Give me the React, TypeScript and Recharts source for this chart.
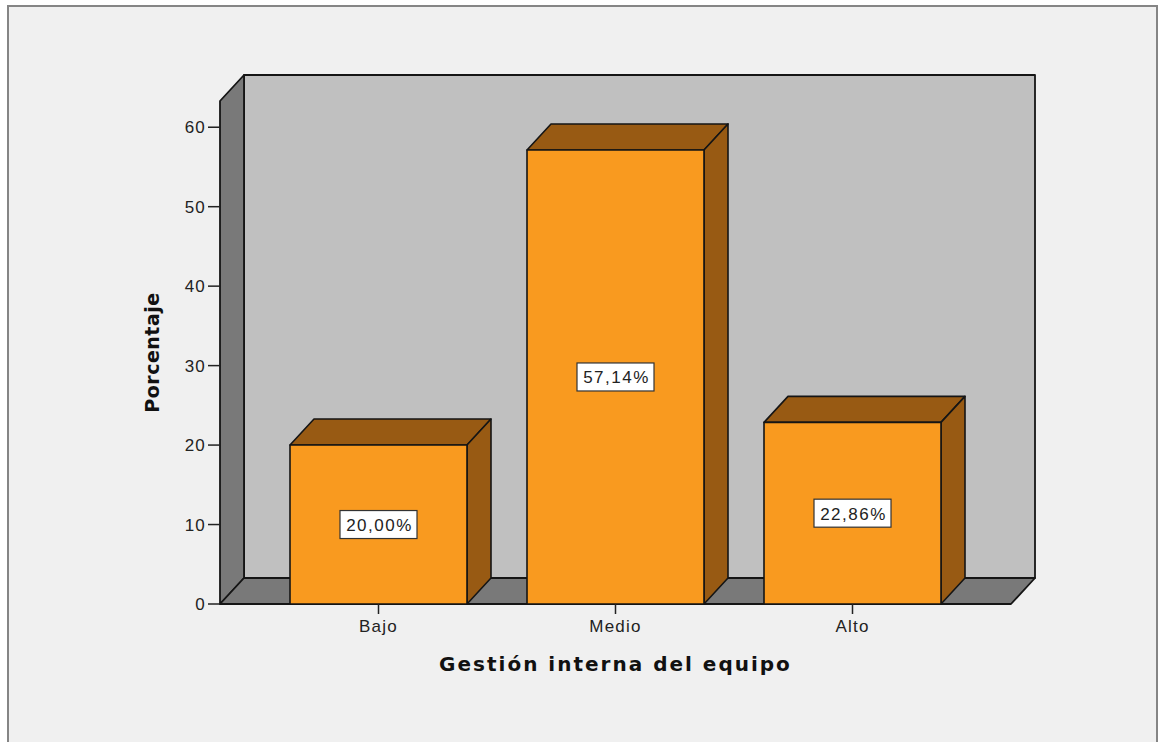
import React from 'react';
import { BarChart, Bar, XAxis, YAxis, ReferenceArea, LabelList } from 'recharts';

const categories = ['Bajo', 'Medio', 'Alto'];
const percentages = [20.0, 57.14, 22.86];
const yTicks = [0, 10, 20, 30, 40, 50, 60];
const Y_MAX = 63.3;

// depth of the fake 3D extrusion (pixels)
const DEPTH_X = 24;
const DEPTH_Y = 26;
// category axis padding; the walls are widened by it to cover the whole plot
const PAD_X = 40;

const FONT = 'Arial, "Liberation Sans", Helvetica, sans-serif';
const TITLE_FONT = '"DejaVu Sans", Verdana, sans-serif';
const EDGE = '#151515';

const data = categories.map((name, i) => ({ name, value: percentages[i] }));

const fmtPct = (v: number) => v.toFixed(2).replace('.', ',') + '%';

const Bar3D = (props: any) => {
  const { x, y, width: w, height: h } = props;
  const dx = DEPTH_X;
  const dy = DEPTH_Y;
  return (
    <g stroke={EDGE} strokeWidth={1.6} strokeLinejoin="round">
      <polygon
        points={`${x},${y} ${x + dx},${y - dy} ${x + w + dx},${y - dy} ${x + w},${y}`}
        fill="#985a13"
      />
      <polygon
        points={`${x + w},${y} ${x + w + dx},${y - dy} ${x + w + dx},${y + h - dy} ${x + w},${y + h}`}
        fill="#985a13"
      />
      <rect x={x} y={y} width={w} height={h} fill="#f99a1f" />
    </g>
  );
};

// left wall, back wall and floor of the box
const Walls = (props: any) => {
  const { x, y, width, height } = props;
  const dx = DEPTH_X;
  const dy = DEPTH_Y;
  const l = x - PAD_X;
  const r = x + width + PAD_X;
  const t = y;
  const b = y + height;
  return (
    <g stroke={EDGE} strokeWidth={1.8} strokeLinejoin="round">
      <rect x={l + dx} y={t - dy} width={r - l} height={height} fill="#c0c0c0" />
      <polygon points={`${l},${t} ${l + dx},${t - dy} ${l + dx},${b - dy} ${l},${b}`} fill="#797979" />
      <polygon points={`${l},${b} ${l + dx},${b - dy} ${r + dx},${b - dy} ${r},${b}`} fill="#797979" />
    </g>
  );
};

const ValueTag = (props: any) => {
  const { x, y, width, height, value } = props;
  const cx = x + width / 2;
  const cy = y + height / 2;
  return (
    <g>
      <rect x={cx - 38.5} y={cy - 14} width={77} height={28} fill="#ffffff" stroke="#333" strokeWidth={1.2} />
      <text
        x={cx + 1}
        y={cy + 1}
        textAnchor="middle"
        dominantBaseline="central"
        fontFamily={FONT}
        fontSize={17}
        letterSpacing={1.5}
        fill="#222"
      >
        {fmtPct(Number(value))}
      </text>
    </g>
  );
};

const YTitle = (props: any) => {
  const { viewBox } = props;
  const x = viewBox.x - 8;
  const y = viewBox.y + viewBox.height / 2;
  return (
    <text
      x={x}
      y={y}
      transform={`rotate(-90 ${x} ${y})`}
      textAnchor="middle"
      dominantBaseline="central"
      fontFamily={TITLE_FONT}
      fontWeight="bold"
      fontSize={19}
      letterSpacing={0.5}
      fill="#111"
    >
      Porcentaje
    </text>
  );
};

const XTitle = (props: any) => {
  const { viewBox } = props;
  return (
    <text
      x={viewBox.x + viewBox.width / 2}
      y={viewBox.y + 60}
      textAnchor="middle"
      dominantBaseline="central"
      fontFamily={TITLE_FONT}
      fontWeight="bold"
      fontSize={20}
      letterSpacing={2}
      fill="#111"
    >
      Gestión interna del equipo
    </text>
  );
};

const tickStyle = { fill: '#222', fontSize: 17, fontFamily: FONT, letterSpacing: 1.2 };

export default function App() {
  return (
    <div style={{ position: 'absolute', left: 0, top: 0, width: 1159, height: 742, background: '#ffffff', overflow: 'hidden' }}>
      <div
        style={{
          position: 'absolute',
          left: 7,
          top: 5,
          width: 1151,
          height: 800,
          background: '#f0f0f0',
          border: '2px solid #858585',
          boxSizing: 'border-box',
        }}
      />
      <div style={{ position: 'absolute', left: 0, top: 0 }}>
        <BarChart
          width={1159}
          height={742}
          data={data}
          margin={{ top: 101, right: 148, bottom: 78, left: 160 }}
          barSize={177}
        >
          <ReferenceArea y1={0} y2={Y_MAX} ifOverflow="visible" shape={Walls} />
          <XAxis
            dataKey="name"
            height={60}
            padding={{ left: PAD_X, right: PAD_X }}
            axisLine={false}
            tickSize={10}
            tickMargin={6}
            tickLine={{ stroke: '#222', strokeWidth: 1.5 }}
            tick={tickStyle}
            label={<XTitle />}
          />
          <YAxis
            width={60}
            domain={[0, Y_MAX]}
            ticks={yTicks}
            axisLine={false}
            tickSize={12}
            tickMargin={2}
            tickLine={{ stroke: '#222', strokeWidth: 1.5 }}
            tick={tickStyle}
            label={<YTitle />}
          />
          <Bar dataKey="value" shape={Bar3D} isAnimationActive={false}>
            <LabelList dataKey="value" content={<ValueTag />} />
          </Bar>
        </BarChart>
      </div>
    </div>
  );
}
